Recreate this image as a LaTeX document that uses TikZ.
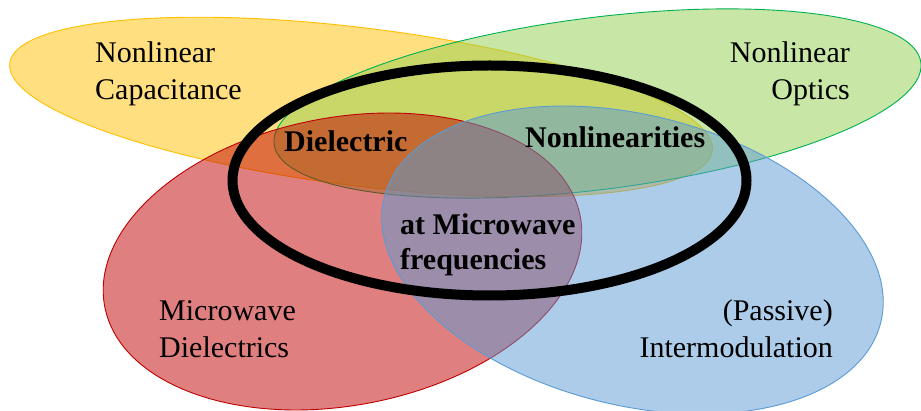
\documentclass[tikz,border=0pt]{standalone}
\usepackage{fontspec}
\setmainfont{Liberation Serif}
\definecolor{capcol}{HTML}{FFC000}
\definecolor{optcol}{HTML}{92D050}
\definecolor{optedge}{HTML}{00B050}
\definecolor{mwdcol}{HTML}{C00000}
\definecolor{pimcol}{HTML}{5B9BD5}
\begin{document}
\begin{tikzpicture}[x=1pt,y=1pt,
  field/.style={line width=0.9pt, fill opacity=0.5},
  lbl/.style={font=\fontsize{30}{37}\selectfont, inner sep=0pt},
  keylbl/.style={font=\fontsize{30}{35}\selectfont\bfseries, inner sep=0pt}]
\useasboundingbox (0,0) rectangle (921,410);
\fill[white] (0,0) rectangle (921,410);
% the four research fields, semi-transparent
\draw[field, draw=capcol, fill=capcol, rotate around={-7.1:(361,303)}]
  (361,303) ellipse [x radius=354, y radius=79];
\draw[field, draw=optedge, fill=optcol, rotate around={7.2:(597.5,306.5)}]
  (597.5,306.5) ellipse [x radius=326, y radius=86];
\draw[field, draw=mwdcol, fill=mwdcol, rotate around={10.7:(342.5,148.5)}]
  (342.5,148.5) ellipse [x radius=242, y radius=144];
\draw[field, draw=pimcol, fill=pimcol, rotate around={-14.2:(632.5,150)}]
  (632.5,150) ellipse [x radius=256, y radius=145];
% the common topic
\draw[line width=10pt] (489.5,229.5) ellipse [x radius=257, y radius=115];
% labels (base anchor sits on the last line)
\node[lbl, anchor=base west, align=left] (cap) at (95,310) {Nonlinear\\Capacitance};
\node[lbl, anchor=base east, align=right] (opt) at (850,310) {Nonlinear\\Optics};
\node[lbl, anchor=base west, align=left] (mwd) at (159,53) {Microwave\\Dielectrics};
\node[lbl, anchor=base east, align=right] (pim) at (833,53) {(Passive)\\Intermodulation};
\node[keylbl, anchor=base west] (diel) at (284,258) {Dielectric};
\node[keylbl, anchor=base west] (nonl) at (525,262) {Nonlinearities};
\node[keylbl, anchor=base west, align=left] (freq) at (400,140) {at Microwave\\frequencies};
\end{tikzpicture}
\end{document}
